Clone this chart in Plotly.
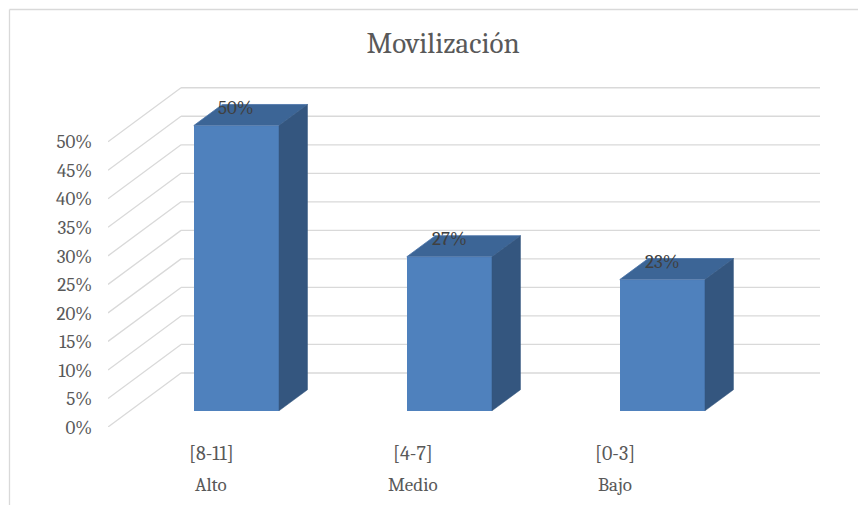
import plotly.graph_objects as go

# ---- data ----
categories = ["[8-11]", "[4-7]", "[0-3]"]
levels = ["Alto", "Medio", "Bajo"]
values = [50, 27, 23]
value_labels = ["50%", "27%", "23%"]
tick_values = [0, 5, 10, 15, 20, 25, 30, 35, 40, 45, 50]
tick_labels = ["0%", "5%", "10%", "15%", "20%", "25%", "30%", "35%", "40%", "45%", "50%"]
title_text = "Movilización"

# ---- 3D look parameters ----
DX = 0.343   # depth offset in x units (back wall vs. front plane)
DY = 9.47    # depth offset in y units
D_FRONT = 0.30
D_BACK = 0.69
BAR_W = 0.40
FONT = "Cambria, 'Liberation Serif', serif"
GRID = "#d9d9d9"
FRONT_C = "#4f81bd"
TOP_C = "#3c6596"
SIDE_C = "#34567f"

OFF = 8  # page body margin
W, H = 866, 505
L = 108 - OFF
T = 87 - OFF
R = W - (820 - OFF)
B = H - (427 - OFF)
pw, ph = W - L - R, H - T - B

fig = go.Figure()
xs = list(range(len(categories)))

# front faces of bars
fig.add_trace(go.Bar(
    x=[i + D_FRONT * DX for i in xs],
    y=values,
    base=[D_FRONT * DY] * len(values),
    width=BAR_W,
    marker=dict(color=FRONT_C, line=dict(width=0)),
    hoverinfo="skip",
    showlegend=False,
))

# top and side faces
for i, v in zip(xs, values):
    cx = i + D_FRONT * DX
    xl, xr = cx - BAR_W / 2, cx + BAR_W / 2
    fy_top = v + D_FRONT * DY
    fy_bot = D_FRONT * DY
    ddx = (D_BACK - D_FRONT) * DX
    ddy = (D_BACK - D_FRONT) * DY
    fig.add_trace(go.Scatter(
        x=[xl, xr, xr + ddx, xl + ddx, xl],
        y=[fy_top, fy_top, fy_top + ddy, fy_top + ddy, fy_top],
        mode="lines", fill="toself", fillcolor=TOP_C,
        line=dict(color="#4a74a8", width=0.8),
        hoverinfo="skip", showlegend=False,
    ))
    fig.add_trace(go.Scatter(
        x=[xr, xr + ddx, xr + ddx, xr, xr],
        y=[fy_bot, fy_bot + ddy, fy_top + ddy, fy_top, fy_bot],
        mode="lines", fill="toself", fillcolor=SIDE_C,
        line=dict(color=SIDE_C, width=0.5),
        hoverinfo="skip", showlegend=False,
    ))

# gridlines (diagonal on side + back wall)
shapes = []
x_front_left = -0.5
x_back_left = -0.5 + DX
x_back_right = len(categories) - 0.5 + DX
for t in tick_values:
    shapes.append(dict(type="line", xref="x", yref="y", layer="below",
                       x0=x_front_left, y0=t, x1=x_back_left, y1=t + DY,
                       line=dict(color=GRID, width=1.3)))
    shapes.append(dict(type="line", xref="x", yref="y", layer="below",
                       x0=x_back_left, y0=t + DY, x1=x_back_right, y1=t + DY,
                       line=dict(color=GRID, width=1.3)))

# chart border (top and left visible)
bx = (9.5 - OFF - L) / pw
by = (H - B - (9.5 - OFF)) / ph
shapes.append(dict(type="line", xref="paper", yref="paper", x0=bx, y0=by, x1=1.3, y1=by,
                   line=dict(color=GRID, width=1.3)))
shapes.append(dict(type="line", xref="paper", yref="paper", x0=bx, y0=by, x1=bx, y1=-0.5,
                   line=dict(color=GRID, width=1.3)))

annotations = []
for i, v, lab in zip(xs, values, value_labels):
    annotations.append(dict(x=i + D_FRONT * DX, y=v + 5.9, xref="x", yref="y",
                            text=lab, showarrow=False,
                            font=dict(family=FONT, size=19, color="#404040")))
for i, c, lv in zip(xs, categories, levels):
    lx = i * 0.948 - 0.016
    annotations.append(dict(x=lx, y=(H - B - (453 - OFF)) / ph, xref="x", yref="paper",
                            text=c, showarrow=False, yanchor="middle",
                            font=dict(family=FONT, size=20, color="#595959")))
    annotations.append(dict(x=lx, y=(H - B - (485 - OFF)) / ph, xref="x", yref="paper",
                            text=lv, showarrow=False, yanchor="middle",
                            font=dict(family=FONT, size=19, color="#595959")))

fig.update_layout(
    width=W, height=H,
    margin=dict(l=L, r=R, t=T, b=B),
    paper_bgcolor="white", plot_bgcolor="white",
    title=dict(text=title_text, x=(443 - OFF) / W, xanchor="center",
               y=1 - (43 - OFF) / H, yanchor="middle", yref="container",
               font=dict(family=FONT, size=29, color="#595959")),
    xaxis=dict(range=[-0.5, len(categories) - 0.5 + DX], showgrid=False,
               zeroline=False, showticklabels=False, showline=False, fixedrange=True),
    yaxis=dict(range=[0, 59.6], tickvals=tick_values, ticktext=tick_labels,
               showgrid=False, zeroline=False, showline=False,
               ticks="outside", ticklen=11, tickcolor="rgba(0,0,0,0)",
               tickfont=dict(family=FONT, size=19, color="#595959"), fixedrange=True),
    shapes=shapes,
    annotations=annotations,
    bargap=0,
)

fig.write_html("out.html")
